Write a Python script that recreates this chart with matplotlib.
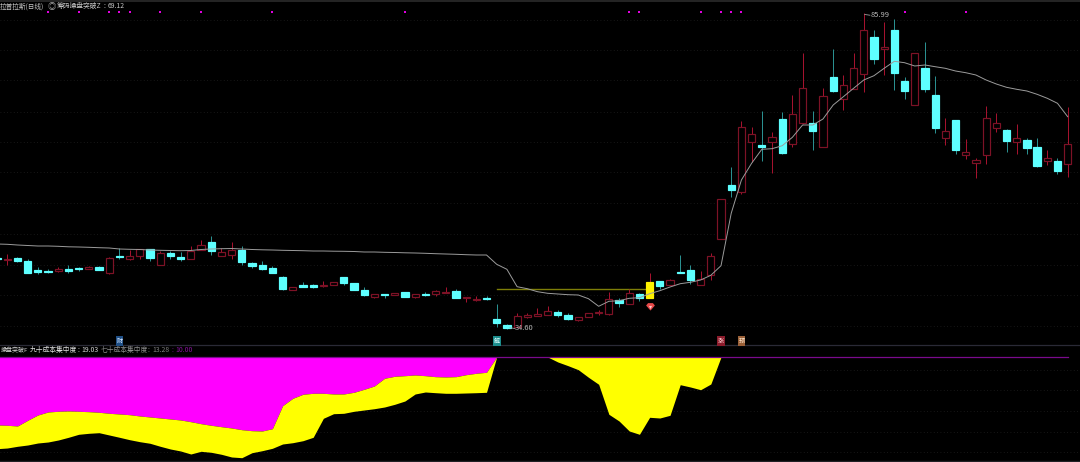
import matplotlib
matplotlib.use('Agg')
import matplotlib.pyplot as plt

plt.rcParams['font.family'] = ['Noto Sans CJK SC', 'DejaVu Sans']

# Chart levels are read on a screen-like inverted scale (larger = lower price)
bar_index = list(range(-1, 105))
body_top = [257.7,258.6,257.7,261,270,271,269.3,269.3,268,267,266.7,258.3,255.7,256,249.3,248.7,253,253,257.3,251,245.3,241.7,252.3,250.3,250.3,262.7,265,268.3,276.7,287.3,285,284.7,285.3,282.3,277.3,283.3,
            290,294.3,294,293.3,292,293.7,294,290.7,292,291,297,299.3,297.7,319.3,325,316.3,315.3,314.3,311.3,312.3,315,317.3,312.7,312.3,298.7,300,293.3,293.7,281.7,280.7,280,272,270.3,279,256,
            199.3,185,126.7,134.3,145,137.3,119.3,114,87.7,123.3,96.3,76.7,85.3,68.3,30.3,37,47,30,81,53.3,68.3,94.7,131,120.3,152,160.3,118.3,123.3,130,138.3,139.7,147,157.7,161.3,143.7]
body_bot = [259.3,260,261.3,272.7,271.7,271.7,271.3,270.7,268.7,268.7,270,273.3,256.7,259.3,256.3,258,264.7,256.3,258.7,259,249.7,250.7,255.7,254.7,261.7,266.3,268.7,273,289.3,289.7,286.7,286.7,286,284.7,283,289.7,
            295,296.7,294.7,294.7,296.7,296.7,294.7,293.7,292.7,297.7,298.3,300.3,298.7,323,327.7,326.7,316.7,315.7,314.7,315.3,319.3,319.7,317.3,313,314.3,303,304,298,297.7,286,284.7,272.7,280,284.7,275.3,
            239.3,190,191.7,141.7,147.3,141.7,152.7,144,123.3,131,147.3,91,98.7,88.7,74.3,58.7,49.3,72.7,91.3,105.3,89,127.7,137.7,150,154.7,163.3,154.7,127.7,140.7,142.3,148,166,160.7,171,164.3]
wick_top = [256,254,256.7,259.3,267.3,269.3,267,265.3,266.7,266,266,257,248.3,250,249,248.7,251.3,251,252,245.7,240,236,248.3,241.7,246.3,262,261.3,266.3,276.3,286.7,282.3,284,281.3,281.7,276.7,283.3,
            287,294.3,294,293.3,292,293.7,292,290.3,287,289.3,297,296,296,303.7,324,313,313.3,307.7,306.3,310,313.3,317.3,312.7,310.3,292,297.7,289.3,293,272.7,280.7,279,255,265,271,252.7,
            199.3,166.7,121,126.7,111,132.3,112,95.3,53.3,111,88,49.3,75.3,53.3,12.7,30,22.3,19,76.7,53.3,42.3,76.3,118.3,120.3,139,157.7,106,113,129.3,124,138.3,138.3,150.3,157.7,106.7]
wick_bot = [261,265,262,273,273.7,273,272,273,270.7,269.3,270.3,274.3,259,260,259,260.7,265,258.7,261,259.3,250.3,255,256.3,258.7,265,267.7,270,273.3,289.7,290.3,287,288.3,286.7,285,284.7,290,
            295.7,297.7,298,295.3,296.7,297.7,295.7,296.3,293,298,302,300.7,299.7,327,329.3,327,318.3,316,315,316.7,319.7,320.7,317.3,315,314.7,306.7,304.3,300.7,297.7,289,285,272.7,283.7,284.7,280,
            239.3,197.3,194,161.7,160.7,173.3,153.7,147.3,124,150,147.3,91.7,110,89.3,91.7,64,74.7,90,99,105.3,91.7,133.3,145,153.7,159,177.7,164.3,132.3,151.7,153.7,153.7,166.7,165,173.7,176.7]
is_up = [0,1,0,0,0,0,1,0,0,1,0,1,0,1,1,0,1,0,0,1,1,0,1,1,0,0,0,0,0,1,0,0,1,1,0,0,
         0,1,0,1,0,1,0,1,1,0,1,1,0,0,0,1,1,1,1,0,0,1,1,1,1,0,1,0,2,0,1,0,0,1,1,
         1,0,1,1,0,1,0,1,1,0,1,0,1,1,1,0,1,0,0,1,0,0,1,0,1,1,1,1,0,1,0,0,1,0,1]

ma_line = [244,244.3,245,245.5,246,246,246.3,246.8,247,247.3,247.7,248,249,249.3,249.5,250,250.3,250.5,250.7,250.5,249.5,249,248.7,248.5,249,249.5,249.8,250,250.3,250.5,250.7,251,251,251.2,251.3,251.5,
           252,252,252.3,252.5,252.8,253,253.3,253.7,254,254.3,254.7,255,255,264.3,269.3,286.7,288.7,291.7,293.3,294,294.7,295,298.7,306.3,301.3,300.7,298.3,297.7,293.7,290.7,287,283.7,282.3,280,275.3,
           265.7,213.3,180,163.3,149.3,148.7,145.7,137.3,125,125,119,105,96.7,88.3,80,75.7,68.3,61.3,62.7,66,65,66.7,68.3,71,72.7,75,80,84,87.3,89.3,91,94.3,98.3,103.3,116.7]

signal_bars = [4,7,10,11,12,15,19,26,39,61,62,68,70,71,72,88,94]

grid_main = [20,49.5,80,111.5,141.5,172,203,234,264.5,294.5,325.7]
grid_lower = [370,390,411,431.7,452.3]

fill_bars = list(range(-1, 49))
fill_upper = [425,425.3,426,420.3,415,412,411.3,411,411.3,411.7,412.3,413.3,414,414.7,416,417,418,419,420,421.7,423.7,425.3,426.7,428,429.7,430.7,431,428.7,405.7,398.3,394.3,393.3,393.3,394,394,392.3,389.3,386,378.3,376.3,375.7,375,375.7,376.7,377,376.7,374.7,373.3,372.3,357]
fill_lower = [448.7,448,446.3,445,443,442,440,437.3,434.3,433.3,432.7,435,437.3,439.7,441.7,443.3,446.3,449,451,454,451.3,452.3,454.3,457,457.7,452.7,450.7,448.3,444,442.7,440.7,437.3,418.3,413.7,413.3,411.3,410,408.7,407,404.3,401,394,392,392.7,393.3,393.3,393,392.7,392.3,357]
hump_bars = list(range(53, 71))
hump_lower = [357,362,365.7,369.7,377.3,384.3,414.3,421,431,434.3,417.3,418,415.3,384.7,387,389.7,384,357]
base_level = 357

BAR_STEP = 10.196
X0 = 7.3
fig = plt.figure(figsize=(10.8, 4.62), dpi=100, facecolor='black')
ax = fig.add_axes([0, 0, 1, 1], facecolor='black')
ax.set_xlim(-X0 / BAR_STEP, (1080 - X0) / BAR_STEP)
ax.set_ylim(462, 0)
ax.axis('off')
LW = 0.72

def px(n):
    return n / BAR_STEP

# grids
for g in grid_main + grid_lower:
    ax.axhline(g, color='#1f1f1f', lw=0.6, ls=(0, (1, 3)), zorder=1)
ax.axhline(1, color='#262626', lw=1.4, zorder=1)
ax.axhline(345.3, color='#2a2a36', lw=0.9, zorder=1)
ax.axhline(460.5, color='#202024', lw=1.0, zorder=1)

# indicator fills
ax.fill_between(fill_bars, base_level, fill_upper, color='#ff00ff', lw=0, zorder=2)
ax.fill_between(fill_bars, fill_upper, fill_lower, color='#ffff00', lw=0, zorder=2)
ax.fill_between(hump_bars, base_level, hump_lower, color='#ffff00', lw=0, zorder=2)
ax.plot([-1, 104], [base_level, base_level], color='#7a0a8c', lw=0.9, zorder=3)

# candles
colors = {1: ('#a5122e', '#7d1226', 'black'), 0: ('#2a9090', '#5effff', '#5effff'), 2: ('#a5122e', '#fff200', '#fff200')}
for i, t, b, h, l, u in zip(bar_index, body_top, body_bot, wick_top, wick_bot, is_up):
    wc, ec, fc = colors[u]
    ax.plot([i, i], [h, l], color=wc, lw=LW, zorder=4, solid_capstyle='butt')
    ax.bar(i, b - t, bottom=t, width=px(7.2), color=fc, edgecolor=ec, lw=LW * 1.2, zorder=5)

ax.plot(bar_index, ma_line, color='#9c9c9c', lw=0.7, zorder=6)
ax.plot([48, 62.6], [289.4, 289.4], color='#7e7e08', lw=1.0, zorder=3)

# top signal dots
ax.scatter(signal_bars, [11.7] * len(signal_bars), s=3, marker='s', color='#e000e0', lw=0, zorder=7)

# high / low labels
ax.plot([84.1, 84.6], [14.5, 15.2], color='#a0a0a0', lw=0.6, zorder=7)
ax.text(84.7, 15, '85.99', color='#b8b8b8', fontsize=5.4, va='center', ha='left', zorder=8)
ax.plot([49.3, 49.8], [327.8, 328.5], color='#a0a0a0', lw=0.6, zorder=7)
ax.text(49.8, 328.5, '34.60', color='#b8b8b8', fontsize=5.4, va='center', ha='left', zorder=8)

# gem marker
gem = [(-1, 0.45), (-0.55, 1), (0.55, 1), (1, 0.45), (0, -0.7)]
ax.scatter([63], [306.6], s=40, marker=gem, color='#e84a4a', lw=0, zorder=7)
ax.scatter([63], [307], s=5, marker='v', color='#ffc8c8', lw=0, zorder=7)

# event badges
for i, txt, bg, fg in [(11, '财', '#1f4f86', '#d8e8ff'), (48, '解', '#1c8c8c', '#e0ffff'),
                       (70, '涨', '#8c1c2c', '#ffd8d8'), (72, '预', '#9a6038', '#ffe8d0')]:
    ax.text(i, 341, txt, color=fg, fontsize=4.4, ha='center', va='center', zorder=8,
            bbox=dict(boxstyle='square,pad=0.12', fc=bg, ec='none'))

# title texts
def label(xpx, ypx, s, color, fs=4.9):
    ax.text((xpx - X0) / BAR_STEP, ypx, s, color=color, fontsize=fs, va='center', ha='left', zorder=9)

label(0, 6.3, '拉普拉斯(日线)', '#c8c8c8', 4.8)
label(48, 6.3, '◎', '#a8a8a8', 6)
label(56.5, 6.3, '筹码操盘突破Z', '#c8c8c8')
label(103, 6.3, ':', '#c8c8c8')
label(108, 6.3, '69.12', '#c8c8c8')
label(0.5, 350, '操盘突破F', '#d4d4d4', 4.3)
label(30, 350, '九十成本集中度', '#e0e0e0')
label(78, 350, ':', '#d4d4d4')
label(81, 350, '19.03', '#d4d4d4')
label(101, 350, '七十成本集中度', '#8c8c8c')
label(148, 350, ':', '#808080')
label(152, 350, '13.28', '#808080')
label(171, 350, ':', '#7a0a8c')
label(175, 350, '10.00', '#8a10a0')

fig.savefig('out.png', dpi=100, facecolor='black')
